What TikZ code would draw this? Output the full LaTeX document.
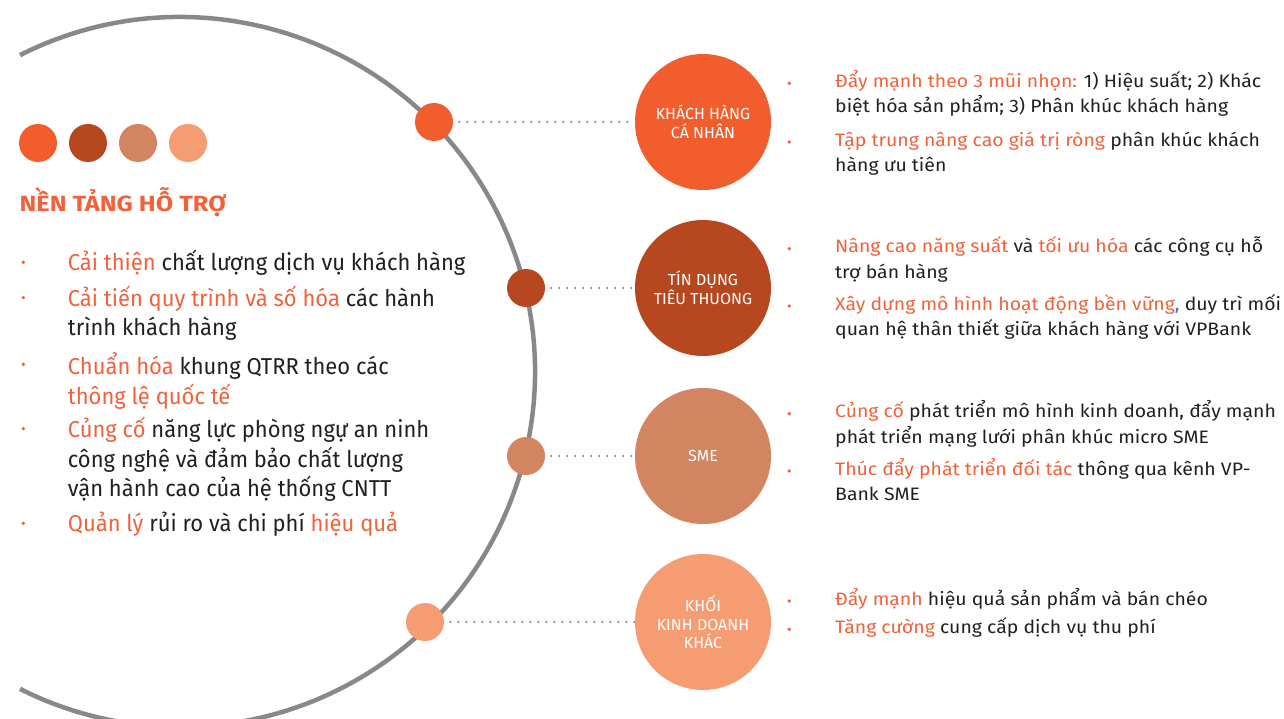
\documentclass[tikz,border=0pt]{standalone}
\usepackage{fontspec}
\setmainfont{Fira Sans}
\newfontfamily\leftfont[FakeStretch=0.955]{Fira Sans}
\newfontfamily\rightfont[FakeStretch=1.08]{Fira Sans}
\newfontfamily\titlefont[FakeStretch=1.15]{Fira Sans}
\definecolor{c1}{RGB}{241,93,45}
\definecolor{c2}{RGB}{183,71,30}
\definecolor{c3}{RGB}{211,132,96}
\definecolor{c4}{RGB}{246,156,114}
\definecolor{arcgray}{RGB}{135,136,140}
\definecolor{dotgray}{RGB}{125,125,128}
\definecolor{txtorange}{RGB}{241,98,58}
\definecolor{txtdark}{RGB}{35,31,32}
\definecolor{commablue}{RGB}{60,110,200}
\newcommand\hlt[1]{\textcolor{txtorange}{#1}}
\begin{document}
\begin{tikzpicture}[x=1pt,y=-1pt,
  legdot/.style={circle,fill=#1,draw=none,minimum size=38pt,inner sep=0pt},
  hubdot/.style={circle,fill=#1,draw=none,minimum size=38pt,inner sep=0pt},
  seg/.style={circle,fill=#1,draw=none,minimum size=136pt,inner sep=0pt,text=white,align=center,font=\fontsize{16}{18.8}\selectfont},
  conn/.style={dotgray,line width=2.4pt,line cap=round,dash pattern=on 0pt off 8pt,shorten <=6pt},
  bul/.style={circle,fill=txtorange,draw=none,minimum size=3.8pt,inner sep=0pt},
  ltext/.style={anchor=north west,inner sep=0pt,align=left,text=txtdark,font=\leftfont\fontsize{23}{29.3}\selectfont},
  rtext/.style={anchor=north west,inner sep=0pt,align=left,text=txtdark,font=\rightfont\fontsize{18}{25.3}\selectfont},
]
\useasboundingbox[fill=white] (0,0) rectangle (1284,719);

% big arc
\draw[arcgray,line width=4.5pt] ([shift={(180,372)}]-116.8:355) arc[start angle=-116.8,end angle=116.8,radius=355];

% legend dots
\node[legdot=c1] (l1) at (38,143) {};
\node[legdot=c2] (l2) at (88,143) {};
\node[legdot=c3] (l3) at (138,143) {};
\node[legdot=c4] (l4) at (188,143) {};

% title
\node[anchor=base west,inner sep=0pt,text=txtorange,font=\titlefont\bfseries\fontsize{22}{22}\selectfont] (title) at (19.5,211.7) {NỀN TẢNG HỖ TRỢ};

% left list
\node[bul] (lb1) at (23.3,262.3) {};
\node[ltext] (lt1) at (67.7,250.05) {\strut\hlt{Cải thiện} chất lượng dịch vụ khách hàng};
\node[bul] (lb2) at (23.3,297.6) {};
\node[ltext] (lt2) at (67.7,285.35) {\strut\hlt{Cải tiến quy trình và số hóa} các hành\\trình khách hàng};
\node[bul] (lb3) at (23.3,364.3) {};
\node[ltext] (lt3) at (67.7,352.05) {\strut\hlt{Chuẩn hóa} khung QTRR theo các\\\hlt{thông lệ quốc tế}};
\node[bul] (lb4) at (23.3,428.6) {};
\node[ltext] (lt4) at (67.7,416.35) {\strut\hlt{Củng cố} năng lực phòng ngự an ninh\\công nghệ và đảm bảo chất lượng\\vận hành cao của hệ thống CNTT};
\node[bul] (lb5) at (23.3,523.3) {};
\node[ltext] (lt5) at (67.7,511.05) {\strut\hlt{Quản lý} rủi ro và chi phí \hlt{hiệu quả}};

% hubs on arc
\node[hubdot=c1] (s1) at (434,122) {};
\node[hubdot=c2] (s2) at (526,288) {};
\node[hubdot=c3] (s3) at (526,456) {};
\node[hubdot=c4] (s4) at (425,622) {};

% segment circles
\node[seg=c1] (b1) at (703,122) {KHÁCH HÀNG\\CÁ NHÂN};
\node[seg=c2] (b2) at (703,288) {TÍN DỤNG\\TIÊU THUONG};
\node[seg=c3] (b3) at (703,456) {SME};
\node[seg=c4] (b4) at (703,622) {KHỐI\\KINH DOANH\\KHÁC};

% connectors
\draw[conn] (s1) -- (b1);
\draw[conn] (s2) -- (b2);
\draw[conn] (s3) -- (b3);
\draw[conn] (s4) -- (b4);

% right texts
\node[bul] (rb1) at (789.3,83.3) {};
\node[rtext] (rt1) at (835,69.6) {\strut\hlt{Đẩy mạnh theo 3 mũi nhọn:} 1) Hiệu suất; 2) Khác\\biệt hóa sản phẩm; 3) Phân khúc khách hàng};
\node[bul] (rb2) at (789.3,142) {};
\node[rtext] (rt2) at (835,128.3) {\strut\hlt{Tập trung nâng cao giá trị ròng} phân khúc khách\\hàng ưu tiên};

\node[bul] (rb3) at (789.3,248.7) {};
\node[rtext] (rt3) at (835,235) {\strut\hlt{Nâng cao năng suất} và \hlt{tối ưu hóa} các công cụ hỗ\\trợ bán hàng};
\node[bul] (rb4) at (789.3,306) {};
\node[rtext] (rt4) at (835,292.3) {\strut\hlt{Xây dựng mô hình hoạt động bền vững}\textcolor{commablue}{,} duy trì mối\\quan hệ thân thiết giữa khách hàng với VPBank};

\node[bul] (rb5) at (789.3,413.7) {};
\node[rtext] (rt5) at (835,400) {\strut\hlt{Củng cố} phát triển mô hình kinh doanh, đẩy mạnh\\phát triển mạng lưới phân khúc micro SME};
\node[bul] (rb6) at (789.3,471) {};
\node[rtext] (rt6) at (835,457.3) {\strut\hlt{Thúc đẩy phát triển đối tác} thông qua kênh VP-\\Bank SME};

\node[bul] (rb7) at (789.3,601) {};
\node[rtext] (rt7) at (835,587.3) {\strut\hlt{Đẩy mạnh} hiệu quả sản phẩm và bán chéo};
\node[bul] (rb8) at (789.3,629.3) {};
\node[rtext] (rt8) at (835,615.6) {\strut\hlt{Tăng cường} cung cấp dịch vụ thu phí};
\end{tikzpicture}
\end{document}
